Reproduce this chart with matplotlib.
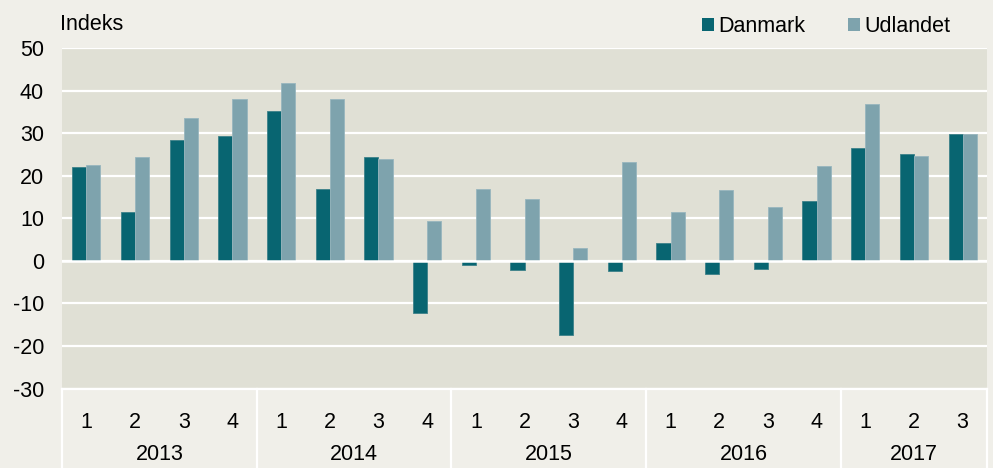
import numpy as np
import matplotlib
matplotlib.use("Agg")
import matplotlib.pyplot as plt
from matplotlib.patches import Patch
from matplotlib.transforms import blended_transform_factory


# =====================================
# DATA
# =====================================

years = ["2013", "2014", "2015", "2016", "2017"]
quarters_per_year = [4, 4, 4, 4, 3]

danmark = [22.0, 11.5, 28.4, 29.3,
           35.2, 16.9, 24.5, -12.2,
           -1.0, -2.1, -17.4, -2.5,
           4.3, -3.1, -1.9, 14.0,
           26.4, 25.1, 29.9]

udlandet = [22.4, 24.5, 33.5, 38.0,
            41.8, 38.0, 24.0, 9.3,
            16.9, 14.5, 3.1, 23.1,
            11.5, 16.7, 12.7, 22.2,
            36.9, 24.6, 29.9]

y_ticks = [-30, -20, -10, 0, 10, 20, 30, 40, 50]


# =====================================
# STYLE
# =====================================

OUTER_BG = "#F0EFE9"
PLOT_BG = "#E0E0D5"
DK_COLOR = "#086571"
UD_COLOR = "#7EA3AD"
FONT_SIZE = 15.5

plt.rcParams["font.family"] = ["Liberation Sans", "DejaVu Sans"]


# =====================================
# PLOT
# =====================================

fig = plt.figure(figsize=(9.93, 4.68), dpi=100, facecolor=OUTER_BG)

ax = fig.add_axes([62 / 993, 1 - 388.5 / 468, 925 / 993, 340.5 / 468])
ax.set_facecolor(PLOT_BG)

n = len(danmark)
x = np.arange(n)
width = 0.29

ax.bar(x - width / 2, danmark, width, color=DK_COLOR,
       edgecolor="#3d8189", linewidth=0.6, zorder=3)
ax.bar(x + width / 2, udlandet, width, color=UD_COLOR,
       edgecolor="#98b6be", linewidth=0.6, zorder=3)

# zero line drawn over the bars
ax.axhline(0, color="white", linewidth=1.8, zorder=4)

ax.set_xlim(-0.5, n - 0.5)
ax.set_ylim(-30, 50)

ax.set_yticks(y_ticks)
ax.set_yticklabels([str(t) for t in y_ticks], fontsize=FONT_SIZE)
ax.yaxis.grid(True, color="white", linewidth=1.6, zorder=1)
ax.set_axisbelow(True)
ax.tick_params(axis="y", length=0, pad=13)

# quarter labels
quarter_labels = []
for q in quarters_per_year:
    quarter_labels += [str(i + 1) for i in range(q)]

ax.set_xticks(x)
ax.set_xticklabels(quarter_labels, fontsize=FONT_SIZE)
ax.tick_params(axis="x", length=0, pad=17)

for spine in ax.spines.values():
    spine.set_visible(False)

# year labels and separators
trans = blended_transform_factory(ax.transData, ax.transAxes)
bottom = -80 / 340.5

start = 0
bounds = [-0.5]
for year, q in zip(years, quarters_per_year):
    center = start + (q - 1) / 2
    ax.text(center, -66.5 / 340.5, year, transform=trans,
            ha="center", va="center", fontsize=FONT_SIZE)
    start += q
    bounds.append(start - 0.5)

for b in bounds:
    ax.plot([b, b], [0, bottom], transform=trans, color="white",
            linewidth=1.6, clip_on=False, zorder=4)

ax.plot([-0.5, n - 0.5], [0, 0], transform=trans, color="white",
        linewidth=1.6, clip_on=False, zorder=4)

# y-axis unit
fig.text(60 / 993, 1 - 25 / 468, "Indeks", fontsize=FONT_SIZE,
         ha="left", va="center")

# legend
handles = [Patch(facecolor=DK_COLOR, label="Danmark"),
           Patch(facecolor=UD_COLOR, label="Udlandet")]
fig.legend(handles=handles, loc="center", ncol=2, frameon=False,
           bbox_to_anchor=(826 / 993, 1 - 27 / 468),
           fontsize=FONT_SIZE, handlelength=0.55, handleheight=0.55,
           handletextpad=0.2, columnspacing=2.0, borderpad=0)

fig.savefig("out.png", dpi=100, facecolor=OUTER_BG)
